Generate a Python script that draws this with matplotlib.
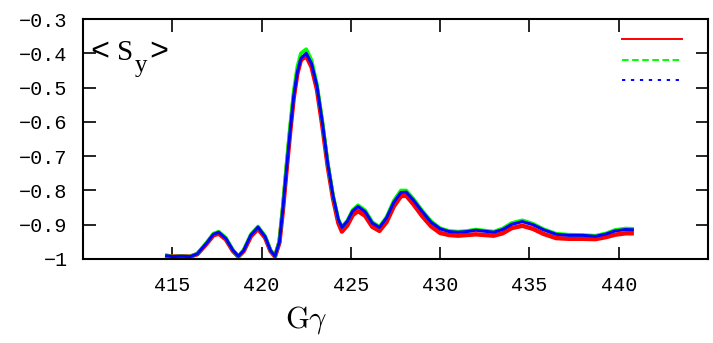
# <S_y> vs G*gamma, three runs (red / green / blue)

from matplotlib import pyplot as plt
from matplotlib.lines import Line2D
import numpy as np

plt.rcParams['font.family'] = ['Liberation Mono', 'DejaVu Sans']

x = [414.6, 415.0, 415.5, 416.0, 416.4, 416.9, 417.3, 417.6, 418.0, 418.4,
     418.7, 419.0, 419.4, 419.8, 420.2, 420.5, 420.75, 421.0, 421.2, 421.4,
     421.6, 421.8, 422.0, 422.2, 422.5, 422.8, 423.1, 423.4, 423.7, 424.0,
     424.3, 424.5, 424.8, 425.1, 425.4, 425.8, 426.2, 426.6, 427.0, 427.4,
     427.8, 428.1, 428.5, 429.0, 429.5, 430.0, 430.5, 431.0, 431.5, 432.0,
     432.5, 433.0, 433.5, 434.0, 434.6, 435.2, 435.8, 436.5, 437.2, 438.0,
     438.7, 439.3, 439.8, 440.4, 440.85]

sy_blue = [-0.990, -0.993, -0.992, -0.993, -0.985, -0.955, -0.928, -0.922, -0.940, -0.975,
           -0.992, -0.975, -0.930, -0.907, -0.935, -0.975, -0.992, -0.950, -0.850, -0.735,
           -0.625, -0.525, -0.455, -0.415, -0.400, -0.430, -0.495, -0.600, -0.720, -0.815,
           -0.885, -0.908, -0.890, -0.860, -0.847, -0.862, -0.895, -0.908, -0.880, -0.835,
           -0.806, -0.805, -0.828, -0.862, -0.893, -0.912, -0.920, -0.922, -0.920, -0.916,
           -0.919, -0.922, -0.914, -0.899, -0.891, -0.900, -0.915, -0.928, -0.931, -0.931,
           -0.934, -0.927, -0.918, -0.914, -0.915]

sy_green = [-0.990, -0.993, -0.992, -0.993, -0.984, -0.953, -0.926, -0.920, -0.938, -0.974,
            -0.992, -0.973, -0.928, -0.905, -0.933, -0.974, -0.992, -0.945, -0.840, -0.720,
            -0.610, -0.510, -0.440, -0.400, -0.388, -0.420, -0.490, -0.595, -0.718, -0.813,
            -0.883, -0.906, -0.888, -0.857, -0.843, -0.858, -0.892, -0.906, -0.877, -0.830,
            -0.800, -0.800, -0.824, -0.859, -0.890, -0.910, -0.918, -0.920, -0.918, -0.914,
            -0.917, -0.920, -0.911, -0.895, -0.887, -0.897, -0.913, -0.926, -0.929, -0.930,
            -0.932, -0.925, -0.915, -0.911, -0.912]

sy_red = [-0.990, -0.993, -0.992, -0.993, -0.986, -0.957, -0.931, -0.926, -0.943, -0.977,
          -0.993, -0.977, -0.934, -0.912, -0.938, -0.977, -0.993, -0.952, -0.855, -0.740,
          -0.630, -0.530, -0.460, -0.420, -0.408, -0.440, -0.505, -0.610, -0.728, -0.823,
          -0.895, -0.920, -0.902, -0.872, -0.860, -0.874, -0.906, -0.918, -0.892, -0.847,
          -0.817, -0.815, -0.840, -0.875, -0.905, -0.924, -0.930, -0.932, -0.930, -0.928,
          -0.930, -0.932, -0.925, -0.910, -0.903, -0.912, -0.927, -0.939, -0.941, -0.941,
          -0.942, -0.936, -0.929, -0.925, -0.925]

xticks = [415, 420, 425, 430, 435, 440]
yticks = [-1.0, -0.9, -0.8, -0.7, -0.6, -0.5, -0.4, -0.3]
ytick_labels = ['\u22121', '\u22120.9', '\u22120.8', '\u22120.7', '\u22120.6',
                '\u22120.5', '\u22120.4', '\u22120.3']

fig = plt.figure(figsize=(7.13, 3.43), dpi=100)
ax = fig.add_axes([0.1164, 0.2449, 0.8766, 0.6997])

ax.plot(x, sy_red, color='#ff0000', lw=3.2, solid_capstyle='butt')
ax.plot(x, sy_green, color='#00ff00', lw=2.6, solid_capstyle='butt')
ax.plot(x, sy_blue, color='#0000ff', lw=2.2, solid_capstyle='butt')

ax.set_xlim(410, 445)
ax.set_ylim(-1.0, -0.3)
ax.set_xticks(xticks)
ax.set_yticks(yticks)
ax.set_yticklabels(ytick_labels)
ax.tick_params(direction='in', length=9, width=1.2, labelsize=14.5, pad=11,
               top=True, right=True, colors='black')
ax.tick_params(axis='x', pad=12)
for s in ax.spines.values():
    s.set_linewidth(1.5)

# <S_y> label, built gnuplot-style from pieces
lab = dict(transform=ax.transAxes, family='Liberation Serif')
ax.text(0.012, 0.829, '<', fontsize=23, transform=ax.transAxes)
ax.text(0.054, 0.829, 'S', fontsize=21, **lab)
ax.text(0.083, 0.779, 'y', fontsize=18, **lab)
ax.text(0.106, 0.829, '>', fontsize=23, transform=ax.transAxes)

fig.text(0.43, 0.044, r'$\mathrm{G}\gamma$', fontsize=22,
         math_fontfamily='cm', ha='center')

handles = [Line2D([], [], color='#ff0000', lw=1.4),
           Line2D([], [], color='#00ff00', lw=1.4, ls=(0, (3.4, 1.8))),
           Line2D([], [], color='#0000ff', lw=1.4, ls=(0, (1.7, 2.9)))]
ax.legend(handles, ['', '', ''], loc='upper right', frameon=False,
          fontsize=10, handlelength=4.3, handletextpad=0, labelspacing=0.48,
          bbox_to_anchor=(0.978, 0.995))

fig.savefig('out.png', dpi=100)
